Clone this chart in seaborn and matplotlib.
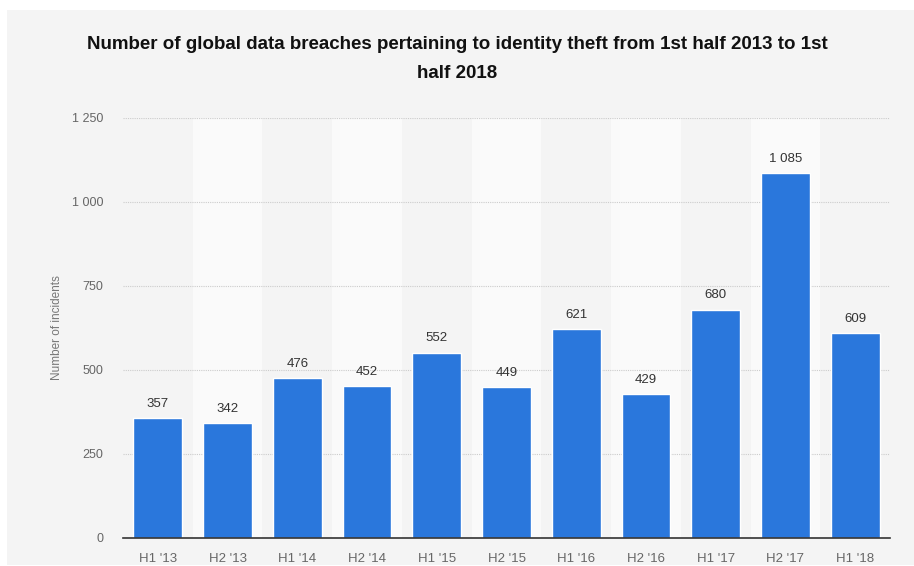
import matplotlib
matplotlib.use("Agg")
import matplotlib.pyplot as plt
import pandas as pd
import seaborn as sns
from matplotlib.patches import Rectangle
from matplotlib.ticker import FuncFormatter

periods = ["H1 '13", "H2 '13", "H1 '14", "H2 '14", "H1 '15", "H2 '15",
           "H1 '16", "H2 '16", "H1 '17", "H2 '17", "H1 '18"]
incidents = [357, 342, 476, 452, 552, 449, 621, 429, 680, 1085, 609]
yticks = [0, 250, 500, 750, 1000, 1250]

title = ("Number of global data breaches pertaining to identity theft from 1st half 2013 to 1st\n"
         "half 2018")

BG = "#f4f4f4"
BAND = "#fafafa"
BAR = "#2a77dc"


def fmt(v):
    return f"{int(v):,}".replace(",", " ")


sns.set_theme(style="white")
plt.rcParams["font.family"] = ["Liberation Sans", "DejaVu Sans"]

df = pd.DataFrame({"period": periods, "incidents": incidents})

fig = plt.figure(figsize=(9.14, 5.66), dpi=100, facecolor="white")
fig.patches.append(Rectangle((7 / 914, 1 / 566), 1, (566 - 11) / 566,
                             transform=fig.transFigure, facecolor=BG,
                             edgecolor="none", zorder=-10))

ax = fig.add_axes([123 / 914, 28 / 566, 767 / 914, 420 / 566])
ax.set_facecolor(BG)

# alternating column bands
for i in range(len(periods)):
    if i % 2 == 1:
        ax.axvspan(i - 0.5, i + 0.5, color=BAND, zorder=0, lw=0)

for t in yticks[1:]:
    ax.axhline(t, color="#cccccc", lw=0.8, ls=(0, (1, 1)), zorder=1)

sns.barplot(ax=ax, data=df, x="period", y="incidents", color=BAR,
            width=0.7, saturation=1, zorder=2)

for p, v in zip(ax.containers[0], incidents):
    ax.text(p.get_x() + p.get_width() / 2, v + 24, fmt(v), ha="center",
            va="bottom", fontsize=9.5, color="#333333")

ax.set_xlim(-0.5, len(periods) - 0.5)
ax.set_ylim(0, 1250)
ax.set_yticks(yticks)
ax.yaxis.set_major_formatter(FuncFormatter(lambda v, _: fmt(v)))
ax.tick_params(axis="y", length=0, pad=14, labelsize=9, labelcolor="#666666")
ax.tick_params(axis="x", length=0, pad=10.5, labelsize=9.5, labelcolor="#666666")

ax.set_xlabel("")
ax.set_ylabel("Number of incidents", fontsize=8.5, color="#777777")
ax.yaxis.set_label_coords((63 - 123) / 767, 0.5)

for s in ["top", "right", "left"]:
    ax.spines[s].set_visible(False)
ax.spines["bottom"].set_color("#333333")
ax.spines["bottom"].set_linewidth(1.2)
ax.spines["bottom"].set_zorder(3)

fig.text(457 / 914, 1 - 36 / 566, title, ha="center", va="top",
         fontsize=13.5, fontweight="bold", color="#111111",
         linespacing=1.9)

fig.savefig("out.png", dpi=100, facecolor=fig.get_facecolor())
